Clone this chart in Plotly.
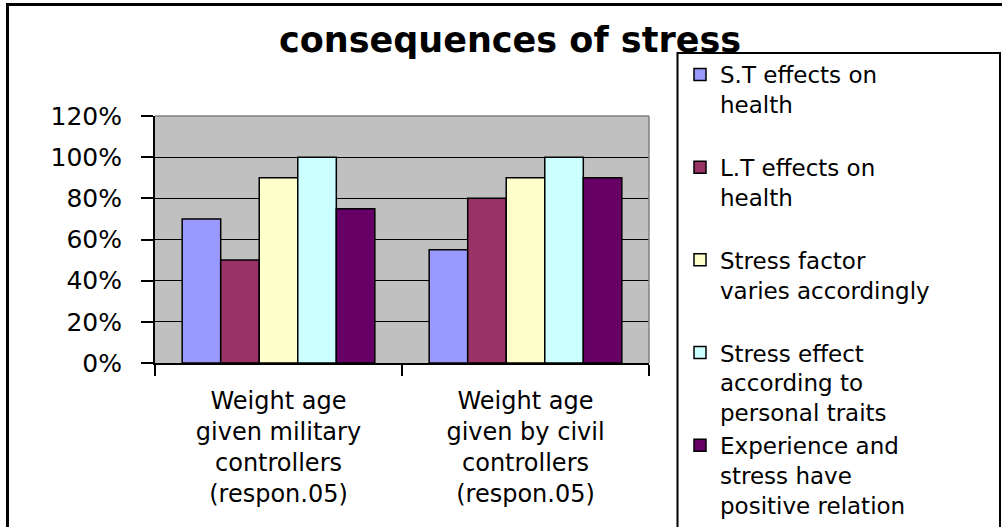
import plotly.graph_objects as go

categories = [
    "Weight age<br>given military<br>controllers<br>(respon.05)",
    "Weight age<br>given by civil<br>controllers<br>(respon.05)",
]
series_names = [
    "S.T effects on<br>health<br> ",
    "L.T effects on<br>health<br> ",
    "Stress factor<br>varies accordingly<br> ",
    "Stress effect<br>according to<br>personal traits",
    "Experience and<br>stress have<br>positive relation",
]
series_values = [
    [0.70, 0.55],
    [0.50, 0.80],
    [0.90, 0.90],
    [1.00, 1.00],
    [0.75, 0.90],
]
series_colors = ["#9999FF", "#993366", "#FFFFCC", "#CCFFFF", "#660066"]
y_tickvals = [0, 0.2, 0.4, 0.6, 0.8, 1.0, 1.2]

W, H = 1002, 527
L, R, T, B = 155, 649, 116, 363  # plot area in pixels
PW, PH = R - L, B - T


def px(x):
    return (x - L) / PW


def py(y):
    return (B - y) / PH


FONT = "DejaVu Sans"

fig = go.Figure()
for i, (name, vals, col) in enumerate(zip(series_names, series_values, series_colors)):
    fig.add_trace(go.Bar(
        x=categories, y=vals, name=name, legendgroup=f"g{i}",
        marker=dict(color=col, line=dict(color="black", width=1.5)),
        hoverinfo="skip",
    ))

shapes = [
    # outer chart border
    dict(type="rect", xref="paper", yref="paper", x0=px(7.5), x1=px(1010), y0=py(4.5), y1=py(535),
         line=dict(color="black", width=3), fillcolor="rgba(0,0,0,0)", layer="above"),
    # legend box
    dict(type="rect", xref="paper", yref="paper", x0=px(677.5), x1=px(1000), y0=py(53), y1=py(535),
         line=dict(color="black", width=2), fillcolor="rgba(0,0,0,0)", layer="above"),
    # plot area top and right border
    dict(type="line", xref="paper", yref="paper", x0=0, x1=1, y0=1, y1=1,
         line=dict(color="#808080", width=1.5)),
    dict(type="line", xref="paper", yref="paper", x0=1, x1=1, y0=0, y1=1,
         line=dict(color="#808080", width=1.5)),
]

fig.update_layout(
    width=W, height=H,
    margin=dict(l=L, r=W - R, t=T, b=H - B, pad=0),
    paper_bgcolor="white", plot_bgcolor="#C0C0C0",
    font=dict(family=FONT, size=24, color="black"),
    title=dict(text="<b>consequences of stress</b>", x=px(510), xref="paper", xanchor="center",
               y=1 - 40 / H, yref="container", yanchor="middle",
               font=dict(family=FONT, size=35, color="black")),
    barmode="group", bargap=0.22, bargroupgap=0,
    showlegend=True,
    legend=dict(x=px(680), xanchor="left", y=py(53), yanchor="top",
                bgcolor="rgba(0,0,0,0)", borderwidth=0, maxheight=800,
                font=dict(family=FONT, size=23, color="black"),
                tracegroupgap=5, valign="top", traceorder="normal"),
    shapes=shapes,
    xaxis=dict(type="category", showline=True, linecolor="black", linewidth=2,
               ticks="outside", tickson="boundaries", ticklen=11, tickcolor="black", tickwidth=1.5,
               showgrid=False, ticklabelstandoff=15,
               tickfont=dict(family=FONT, size=24, color="black"),
               fixedrange=True),
    yaxis=dict(range=[0, 1.2], tickvals=y_tickvals, tickformat=".0%", showline=True,
               linecolor="black", linewidth=2, ticks="outside", ticklen=12, tickcolor="black",
               tickwidth=1.5, showgrid=True, gridcolor="black", gridwidth=1,
               ticklabelstandoff=14, zeroline=False,
               tickfont=dict(family=FONT, size=25, color="black"), fixedrange=True),
)

fig.write_html("out.html", config={"displayModeBar": False},
               post_script="document.body.style.margin='0';document.body.style.overflow='hidden';")
